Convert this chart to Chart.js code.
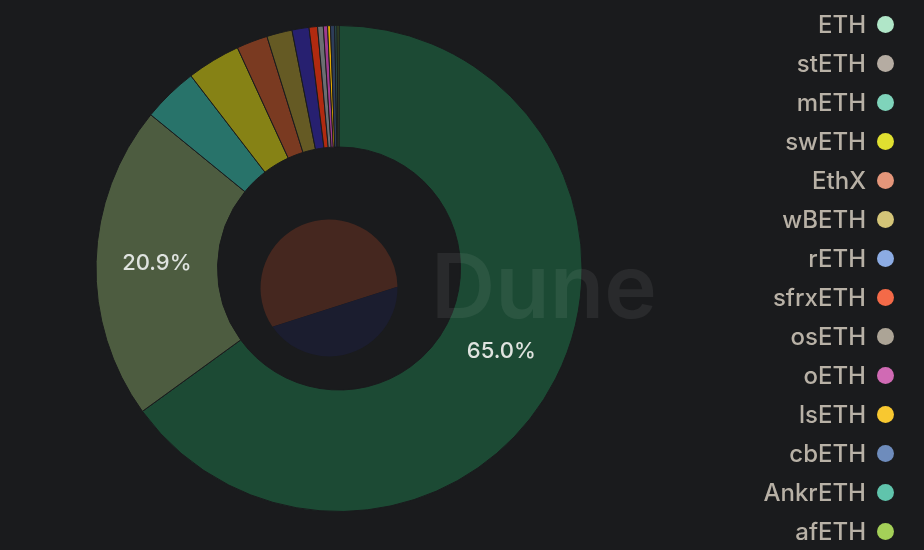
<!DOCTYPE html>
<html>
<head>
<meta charset="utf-8">
<script src="https://cdn.jsdelivr.net/npm/chart.js@4.4.1/dist/chart.umd.min.js"></script>
<style>
  html, body { margin: 0; padding: 0; background: #1a1b1d; }
  #wrap { position: relative; width: 924px; height: 550px; overflow: hidden; }
  #pie { position: absolute; left: 0; top: 0; }
  #legend {
    position: absolute; right: 30px; top: 5px; margin: 0; padding: 0; list-style: none;
    font-family: Inter, "Noto Sans", sans-serif; font-size: 24px; font-weight: 500; color: #b8b1a6;
  }
  #legend li { height: 39px; display: flex; align-items: center; justify-content: flex-end; }
  #legend .dot { width: 17px; height: 17px; border-radius: 50%; margin-left: 11px; }
</style>
</head>
<body>
<div id="wrap">
  <canvas id="pie" width="924" height="550"></canvas>
  <ul id="legend"></ul>
</div>
<script>
// --- data ---
const labels = ['ETH', 'stETH', 'mETH', 'swETH', 'EthX', 'wBETH', 'rETH', 'sfrxETH', 'osETH', 'oETH', 'lsETH', 'cbETH', 'AnkrETH', 'afETH'];
const shares = [65.0, 20.9, 3.67, 3.57, 2.07, 1.69, 1.13, 0.56, 0.38, 0.28, 0.19, 0.28, 0.15, 0.13];

// slice fills (dimmed) and legend dots (bright)
const sliceColors = ['#1c4a34', '#4d5c40', '#28736a', '#868215', '#7a3a21', '#655a24', '#272070', '#b02a10',
                     '#6b6e72', '#9e3a8e', '#e2a800', '#2e3d5a', '#2a5550', '#405a2a'];
const dotColors = ['#b0e6c8', '#b5aca2', '#7fd4bb', '#e0e030', '#e4967a', '#d4c578', '#8cace4', '#f46a48',
                   '#aca496', '#d06ab4', '#f8c830', '#6e8cbc', '#60c4ac', '#a4d058'];

// --- legend ---
const legendEl = document.getElementById('legend');
labels.forEach((name, i) => {
    const li = document.createElement('li');
    li.innerHTML = `<span>${name}</span><span class="dot" style="background:${dotColors[i]}"></span>`;
    legendEl.appendChild(li);
});

// --- watermark + percentage labels ---
const duneMark = {
    id: 'duneMark',
    afterDatasetsDraw(chart) {
        const c = chart.ctx;
        const cx = 329, cy = 288, r = 68.5;
        const a1 = 145.6 * Math.PI / 180, a2 = -1 * Math.PI / 180;
        c.save();
        c.beginPath();
        c.arc(cx, cy, r, a1, a2 + 2 * Math.PI);
        c.closePath();
        c.fillStyle = '#45271f';
        c.fill();
        c.beginPath();
        c.arc(cx, cy, r, a2, a1);
        c.closePath();
        c.fillStyle = '#1b1d2f';
        c.fill();
        c.font = '600 89px Inter, "Noto Sans", sans-serif';
        c.fillStyle = 'rgba(255,255,255,0.065)';
        c.textBaseline = 'alphabetic';
        c.fillText('Dune', 431, 318);
        c.restore();
    }
};

const sliceLabels = {
    id: 'sliceLabels',
    afterDraw(chart) {
        const c = chart.ctx;
        const ds = chart.data.datasets[0];
        const total = ds.data.reduce((a, b) => a + b, 0);
        const meta = chart.getDatasetMeta(0);
        c.save();
        c.font = '500 22px Inter, "Noto Sans", sans-serif';
        c.fillStyle = '#dfe3df';
        c.textAlign = 'center';
        c.textBaseline = 'middle';
        meta.data.forEach((arc, i) => {
            const pct = ds.data[i] / total * 100;
            if (pct < 10) return;
            const p = arc.tooltipPosition();
            c.fillText(pct.toFixed(1) + '%', p.x, p.y);
        });
        c.restore();
    }
};

const chart = new Chart(document.getElementById('pie'), {
    type: 'doughnut',
    data: {
        labels: labels,
        datasets: [{
            data: shares,
            backgroundColor: sliceColors,
            borderColor: '#1a1b1d',
            borderWidth: 1
        }]
    },
    options: {
        responsive: false,
        animation: false,
        cutout: '50%',
        layout: { padding: { top: 25, bottom: 38, left: 0, right: 246 } },
        plugins: {
            legend: { display: false },
            tooltip: { enabled: false }
        }
    },
    plugins: [duneMark, sliceLabels]
});
</script>
</body>
</html>
